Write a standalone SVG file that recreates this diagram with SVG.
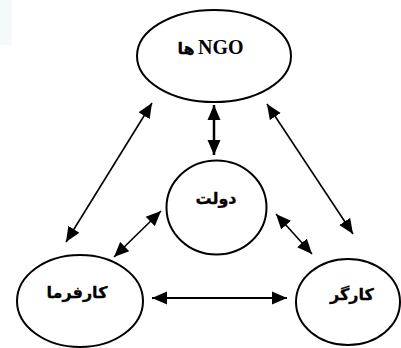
<svg xmlns="http://www.w3.org/2000/svg" width="401" height="348" viewBox="0 0 401 348">
<style>
.node{fill:#fff;stroke:#000;stroke-width:2}
.lbl{font-family:"Liberation Serif",serif;font-weight:bold;font-size:20px;fill:#000}
.fa{font-family:"DejaVu Sans",sans-serif;font-weight:bold;font-size:16px;fill:#000;text-anchor:middle;stroke:#000;stroke-width:0.3}
.ln{stroke:#000;stroke-width:1.6;fill:none;marker-start:url(#ah);marker-end:url(#ah)}
</style>
<defs>
<marker id="ah" markerUnits="userSpaceOnUse" markerWidth="16" markerHeight="14" refX="15" refY="6.5" orient="auto-start-reverse" viewBox="0 0 16 13">
<path d="M0,0 L15,6.5 L0,13 z" fill="#000"/>
</marker>
</defs>
<rect x="0" y="0" width="12" height="45" fill="#f6f9fa"/>
<g id="connectors">
<line class="ln" x1="214" y1="105" x2="214" y2="155" style="stroke-width:2.5"/>
<line class="ln" x1="152" y1="103" x2="66" y2="242"/>
<line class="ln" x1="267" y1="104" x2="353" y2="234"/>
<line class="ln" x1="161" y1="211" x2="114" y2="257"/>
<line class="ln" x1="276" y1="214" x2="312" y2="254"/>
<line class="ln" x1="152" y1="298" x2="287" y2="298" style="stroke-width:2"/>
</g>
<g id="ngo">
<ellipse class="node" cx="214" cy="56" rx="77" ry="46"/>
<text class="lbl" x="198" y="54">NGO</text>
<text class="fa" x="186" y="54" font-size="15">ها</text>
</g>
<g id="dolat">
<ellipse class="node" cx="216.5" cy="207.5" rx="50" ry="47"/>
<text class="fa" x="216" y="204">دولت</text>
</g>
<g id="karfarma">
<ellipse class="node" cx="80" cy="301" rx="63" ry="46"/>
<text class="fa" x="77" y="298">کارفرما</text>
</g>
<g id="kargar">
<ellipse class="node" cx="348" cy="302" rx="52" ry="43"/>
<text class="fa" x="352" y="300">کارگر</text>
</g>
</svg>
